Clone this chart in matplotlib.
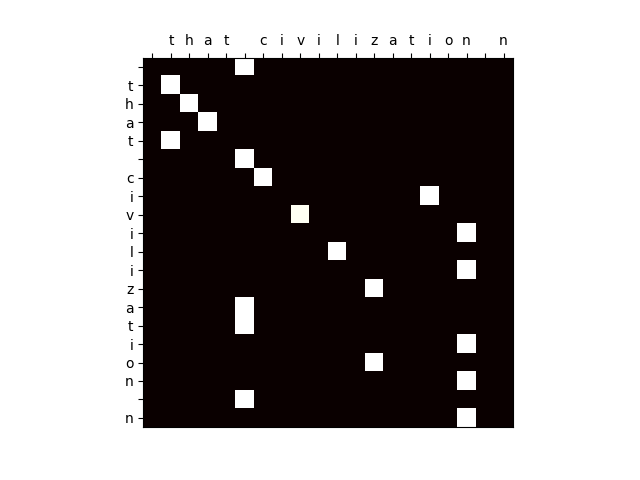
import matplotlib
matplotlib.use("Agg")
import matplotlib.pyplot as plt
import numpy as np

# attention of output chars (rows) over input chars (columns)
input_chars = [' ', 't', 'h', 'a', 't', ' ', 'c', 'i', 'v', 'i', 'l', 'i', 'z', 'a', 't', 'i', 'o', 'n', ' ', 'n']
output_chars = [' ', 't', 'h', 'a', 't', ' ', 'c', 'i', 'v', 'i', 'l', 'i', 'z', 'a', 't', 'i', 'o', 'n', ' ', 'n']

# column index of the attended input char for every output row, and its weight
attended_col = [5, 1, 2, 3, 1, 5, 6, 15, 8, 17, 10, 17, 12, 5, 5, 17, 12, 17, 5, 17]
attended_weight = [1.0, 1.0, 1.0, 1.0, 1.0, 1.0, 1.0, 1.0, 0.985, 1.0,
                   1.0, 1.0, 1.0, 1.0, 1.0, 1.0, 1.0, 1.0, 1.0, 1.0]

attentions = np.zeros((len(output_chars), len(input_chars)))
for row, (col, w) in enumerate(zip(attended_col, attended_weight)):
    attentions[row, col] = w

fig = plt.figure(figsize=(6.4, 4.8), dpi=100)
ax = fig.add_subplot(111)
ax.matshow(attentions, cmap='hot', vmin=0, vmax=1)

ax.set_xticks(range(len(input_chars)))
ax.set_xticklabels(input_chars)
ax.set_yticks(range(len(output_chars)))
ax.set_yticklabels(output_chars)
ax.tick_params(axis='x', bottom=False)

plt.savefig('out.png')
plt.close()
